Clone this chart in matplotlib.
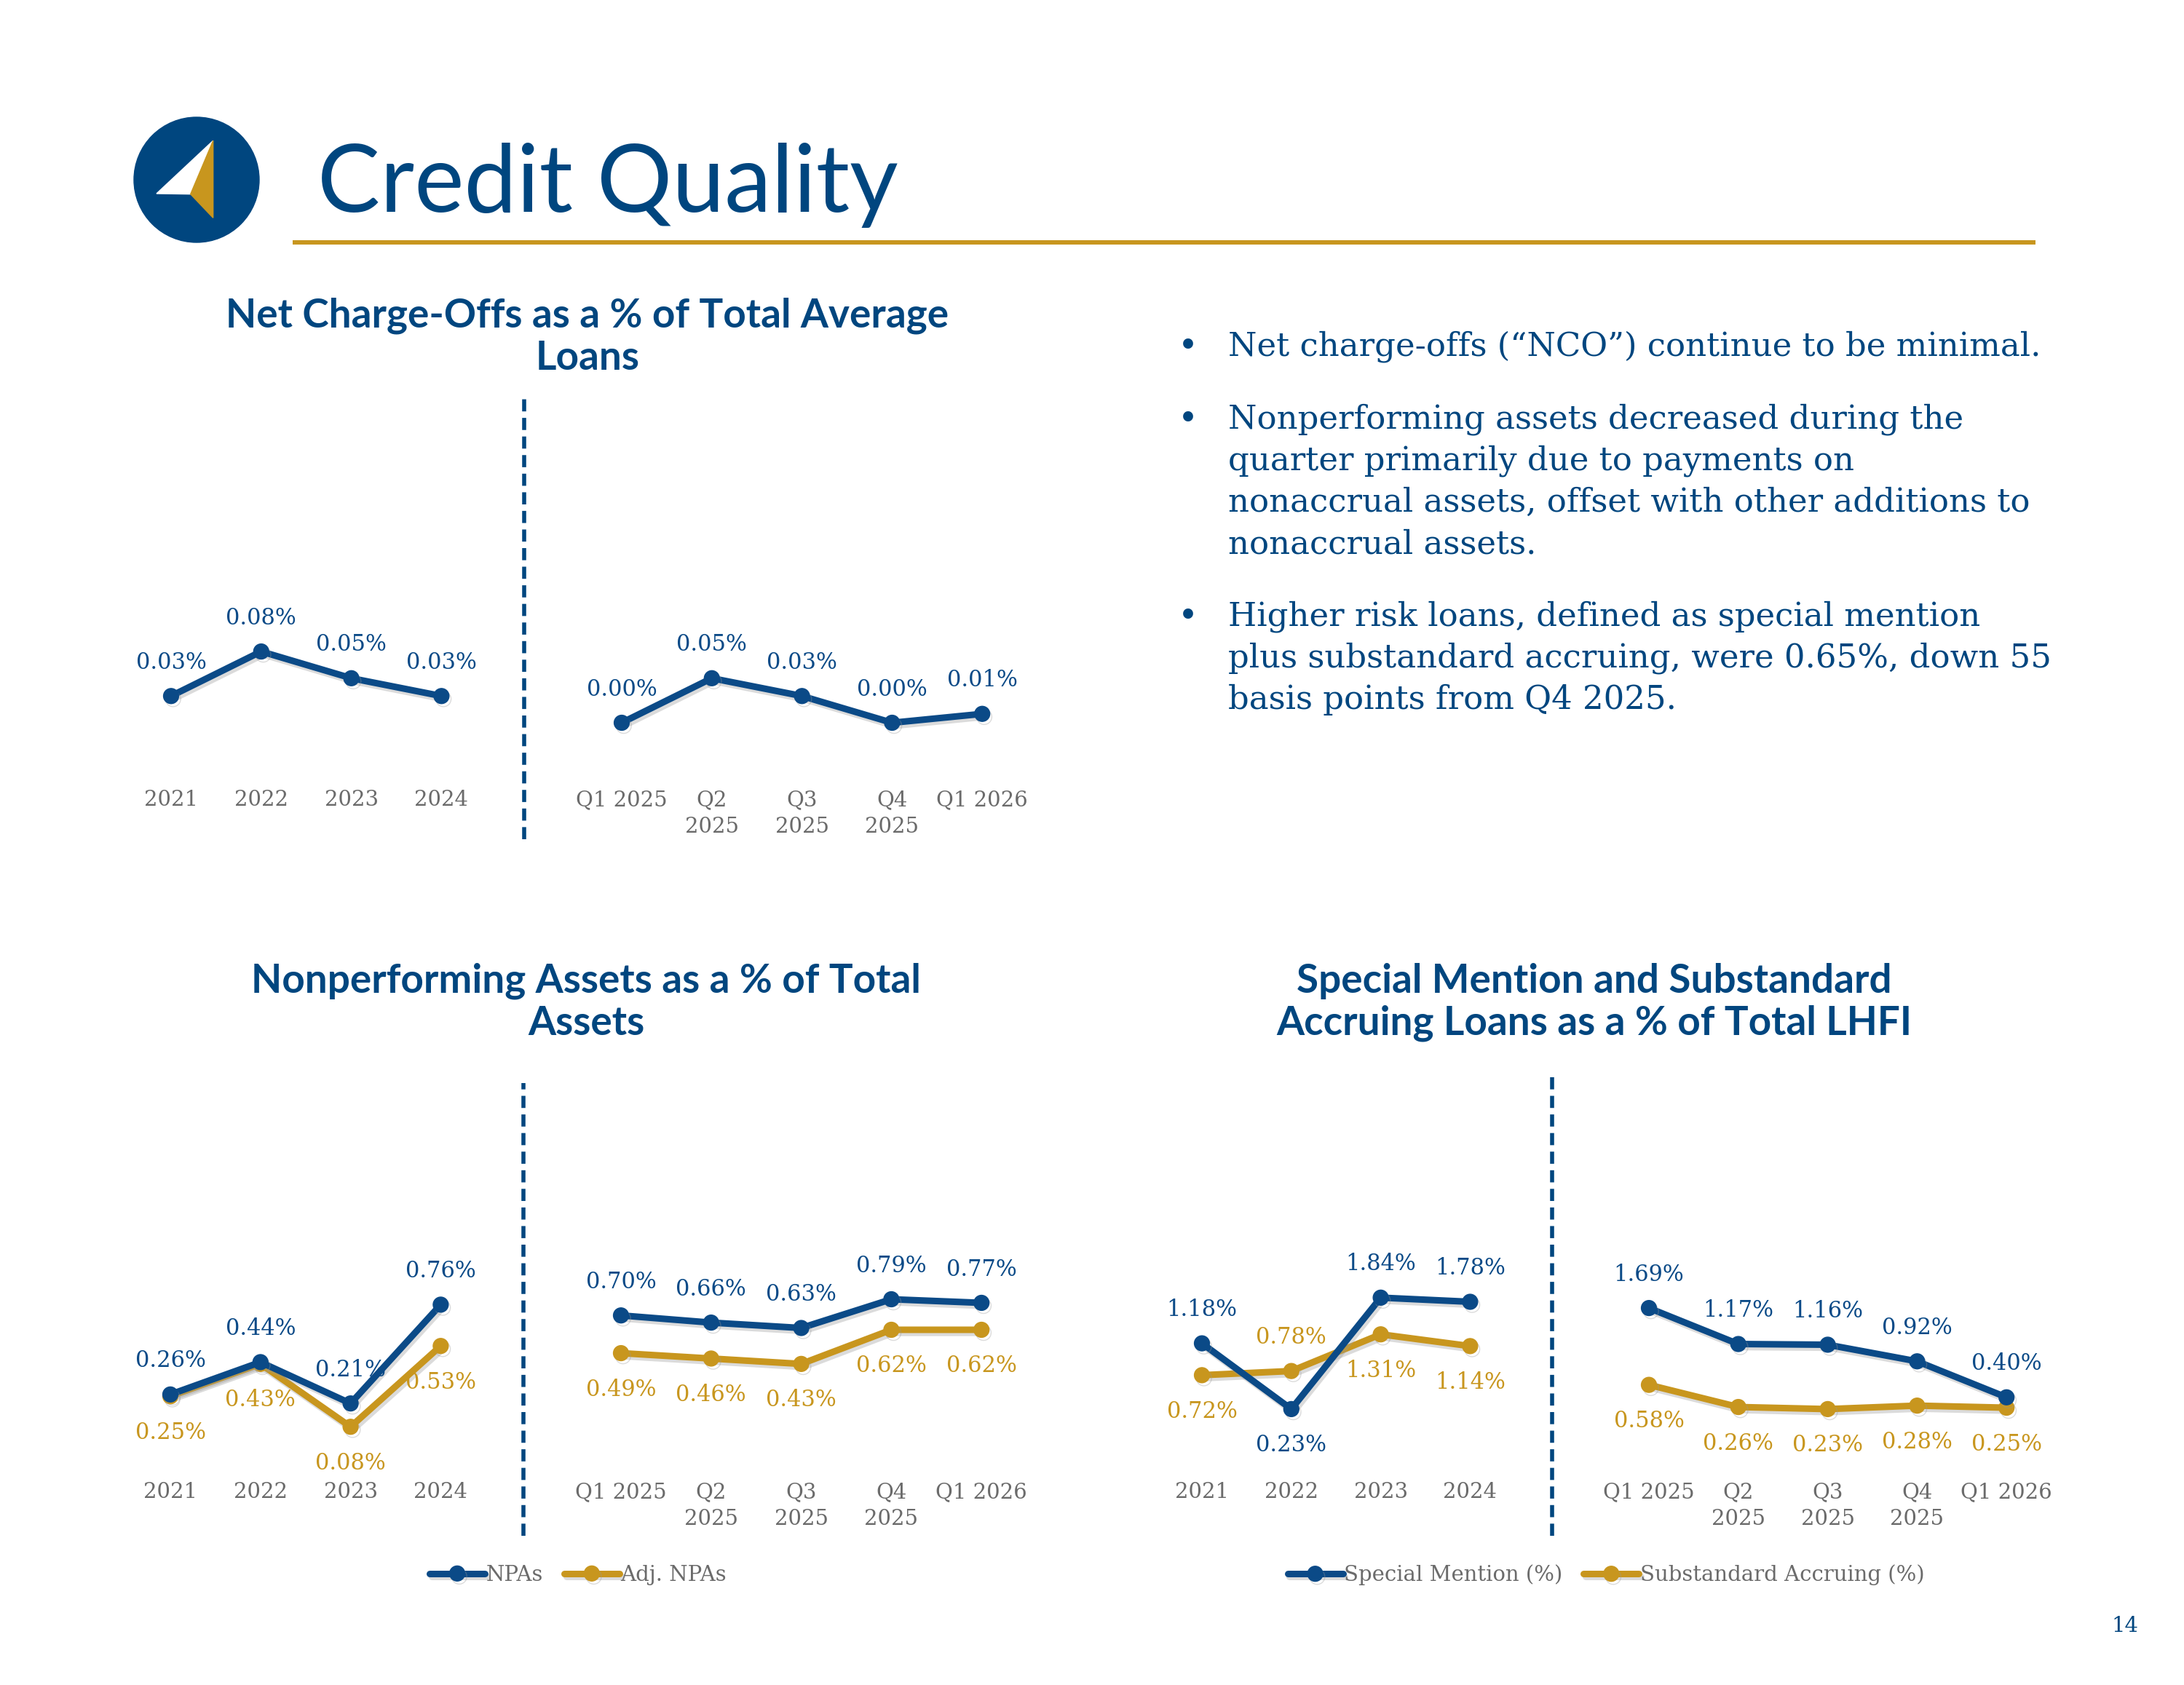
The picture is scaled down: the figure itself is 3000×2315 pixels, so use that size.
import matplotlib
matplotlib.use("Agg")
import matplotlib.pyplot as plt
import matplotlib.patheffects as pe
from matplotlib.patches import Circle, Polygon

# ---- data ----
years = ["2021", "2022", "2023", "2024"]
quarters = ["Q1 2025", "Q2\n2025", "Q3\n2025", "Q4\n2025", "Q1 2026"]

nco_years = [0.03, 0.08, 0.05, 0.03]
nco_quarters = [0.00, 0.05, 0.03, 0.00, 0.01]

npa_years = [0.26, 0.44, 0.21, 0.76]
npa_quarters = [0.70, 0.66, 0.63, 0.79, 0.77]
adj_npa_years = [0.25, 0.43, 0.08, 0.53]
adj_npa_quarters = [0.49, 0.46, 0.43, 0.62, 0.62]

sm_years = [1.18, 0.23, 1.84, 1.78]
sm_quarters = [1.69, 1.17, 1.16, 0.92, 0.40]
sub_years = [0.72, 0.78, 1.31, 1.14]
sub_quarters = [0.58, 0.26, 0.23, 0.28, 0.25]

bullets = [
    ["Net charge-offs (\u201cNCO\u201d) continue to be minimal."],
    ["Nonperforming assets decreased during the",
     "quarter primarily due to payments on",
     "nonaccrual assets, offset with other additions to",
     "nonaccrual assets."],
    ["Higher risk loans, defined as special mention",
     "plus substandard accruing, were 0.65%, down 55",
     "basis points from Q4 2025."],
]

BLUE = "#0B4A87"
DARK = "#00467F"
GOLD = "#C8961E"
GRAY = "#6B6B6B"
SANS = "Lato"
SERIF = "DejaVu Serif"

W, H = 3000, 2315
fig = plt.figure(figsize=(W / 100, H / 100), dpi=100)


def fx(x):
    return x / W


def fy(y):
    return 1 - y / H


# ---- header ----
lax = fig.add_axes([fx(180), fy(337), 180 / W, 180 / H])
lax.set_xlim(-90, 90)
lax.set_ylim(-90, 90)
lax.axis("off")
lax.add_patch(Circle((0, 0), 86, color=DARK))
lax.add_patch(Polygon([(22.7, 53.7), (-55, -19), (-8.3, -19.7)], color="white"))
lax.add_patch(Polygon([(22.7, 53.7), (-8.3, -19.7), (22.7, -52.3)], color=GOLD))

fig.text(fx(436), fy(291), "Credit Quality", fontsize=93, family=SANS,
         color=DARK, va="baseline")
fig.add_artist(plt.Line2D([fx(405), fx(2793)], [fy(333), fy(333)],
                          color=GOLD, lw=4.3))

# ---- bullets ----
y0s = [476, 576, 847]
for lines, y0 in zip(bullets, y0s):
    fig.text(fx(1618), fy(y0), "\u2022", fontsize=34, family=SERIF,
             color=DARK, va="center")
    for i, ln in enumerate(lines):
        fig.text(fx(1687), fy(y0 + i * 57.4), ln, fontsize=32.4, family=SERIF,
                 color=DARK, va="center")

fig.text(fx(2919), fy(2234), "14", fontsize=21, family=SERIF, color=DARK,
         ha="center", va="center")

shadow = [pe.SimpleLineShadow(offset=(2, -3), shadow_color="#999999", alpha=0.35),
          pe.Normal()]


def chart(left, step, top, bottom, zero, ppu, dash_top, dash_bottom,
          series, title, tcx, tcy, leg=None):
    x0 = left - 0.5 * step
    ax = fig.add_axes([fx(x0), fy(bottom), 10 * step / W, (bottom - top) / H])
    ax.set_xlim(-0.5, 9.5)
    ax.set_ylim(-(bottom - zero) / ppu, (zero - top) / ppu)
    for s in ax.spines.values():
        s.set_visible(False)
    ax.set_yticks([])
    ax.set_xticks(list(range(4)) + list(range(5, 10)), years + quarters)
    ax.tick_params(axis="x", length=0, pad=5, labelsize=21, labelcolor=GRAY)
    for t in ax.get_xticklabels():
        t.set_family(SERIF)
        t.set_linespacing(1.4)

    h = bottom - top
    ax.axvline(3.92, ymin=(bottom - dash_bottom) / h, ymax=(bottom - dash_top) / h,
               color=DARK, lw=4, dashes=(3, 1.6), clip_on=False)

    handles = []
    for k, (yv, qv, color, name) in enumerate(series):
        for xs, vals in ((range(4), yv), (range(5, 10), qv)):
            ln, = ax.plot(list(xs), vals, color=color, lw=6.5, marker="o",
                          ms=15, solid_capstyle="round", path_effects=shadow,
                          zorder=3 + (1 - k))
        handles.append((ln, name))
        for j, (xs, vals) in enumerate(((range(4), yv), (range(5, 10), qv))):
            for i, (x, v) in enumerate(zip(xs, vals)):
                others = [(s[0] if j == 0 else s[1])[i] for s in series
                          if s is not series[k]]
                above = all(v >= o for o in others)
                if others and all(v == o for o in others):
                    above = k == 0
                off = 33 if above else -36
                ax.annotate(f"{v:.2f}%", (x, v), xytext=(0, off),
                            textcoords="offset points", ha="center", va="center",
                            fontsize=22, family=SERIF, color=color, zorder=6)

    fig.text(fx(tcx), fy(tcy), title, fontsize=39.5, family=SANS, weight="bold",
             color=DARK, ha="center", va="center", linespacing=1.2)

    if leg:
        ax.legend([h_[0] for h_ in handles], [h_[1] for h_ in handles],
                  loc="center", bbox_to_anchor=(fx(leg[0]), fy(leg[1])),
                  bbox_transform=fig.transFigure, ncol=len(handles), frameon=False,
                  prop={"family": SERIF, "size": 21}, labelcolor=GRAY,
                  handlelength=2.6, handletextpad=0.05, columnspacing=1.0)
    return ax


chart(235, 123.8, 541, 1078, 993, 1224, 541, 1153,
      [(nco_years, nco_quarters, BLUE, "NCO")],
      "Net Charge-Offs as a % of Total Average\nLoans", 807, 463)

chart(234, 123.8, 1488, 2029, 1980, 246.8, 1488, 2110,
      [(npa_years, npa_quarters, BLUE, "NPAs"),
       (adj_npa_years, adj_npa_quarters, GOLD, "Adj. NPAs")],
      "Nonperforming Assets as a % of Total\nAssets", 805, 1377, leg=(794, 2164))

chart(1651, 122.8, 1479, 2029, 1957.8, 95.1, 1479, 2110,
      [(sm_years, sm_quarters, BLUE, "Special Mention (%)"),
       (sub_years, sub_quarters, GOLD, "Substandard Accruing (%)")],
      "Special Mention and Substandard\nAccruing Loans as a % of Total LHFI",
      2190, 1377, leg=(2206, 2164))

fig.savefig("out.png", dpi=100)
